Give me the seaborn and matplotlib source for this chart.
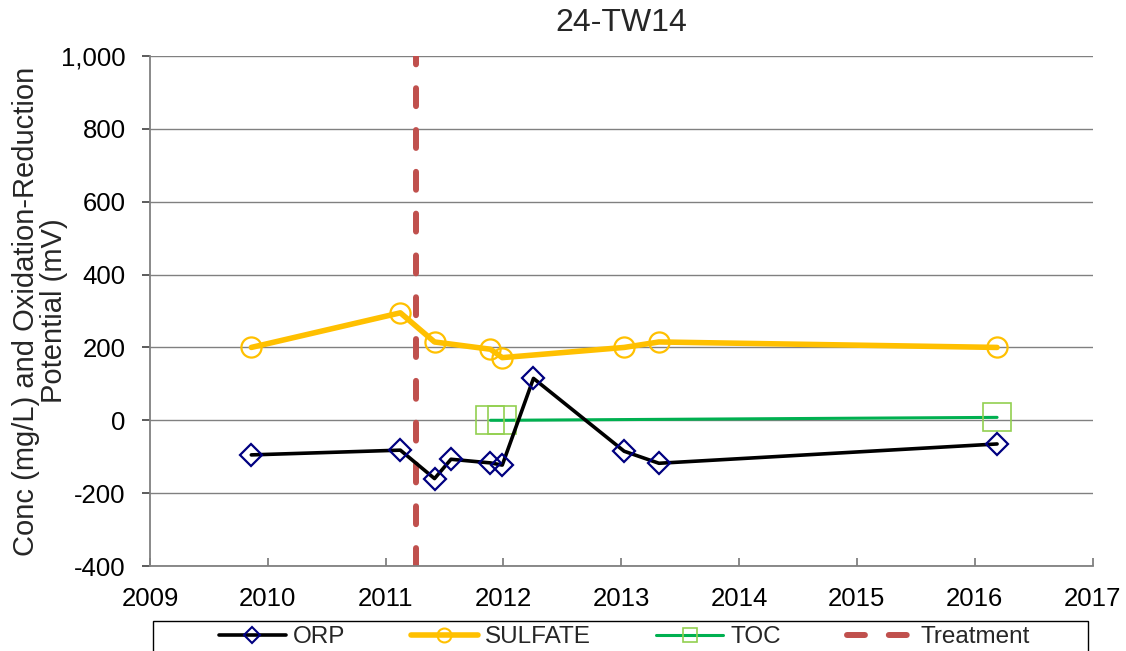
import matplotlib
matplotlib.use("Agg")
import matplotlib.pyplot as plt
import seaborn as sns
import pandas as pd
from matplotlib.lines import Line2D
from matplotlib.patches import Rectangle

sns.set_theme(style="white")
plt.rcParams['font.family'] = ['Liberation Sans', 'DejaVu Sans']

# Sampling dates as decimal years
orp_year = [2009.86, 2011.125, 2011.415, 2011.555, 2011.89, 2011.99, 2012.255, 2013.025, 2013.32, 2016.19]
orp_mv = [-95, -82, -160, -107, -117, -123, 115, -85, -118, -65]

sulfate_year = [2009.86, 2011.125, 2011.415, 2011.89, 2011.99, 2013.025, 2013.32, 2016.19]
sulfate_mgl = [200, 295, 215, 195, 172, 200, 215, 200]

toc_year = [2011.89, 2011.99, 2016.19]
toc_mgl = [0, 0, 8]

treatment_year = 2011.255

year_ticks = list(range(2009, 2018))
value_ticks = list(range(-400, 1001, 200))

W, H = 1126, 651
fig = plt.figure(figsize=(W / 100, H / 100), dpi=100)
ax = fig.add_axes([150 / W, 1 - 566 / H, (1092.5 - 150) / W, (566 - 56) / H])

orp = pd.DataFrame({"year": orp_year, "value": orp_mv})
sulfate = pd.DataFrame({"year": sulfate_year, "value": sulfate_mgl})
toc = pd.DataFrame({"year": toc_year, "value": toc_mgl})

# Treatment date: dashed vertical marker
treat_ls = (0, (3, 4))
ax.axvline(treatment_year, color="#C0504D", lw=4.3, ls=treat_ls, zorder=2,
           dash_capstyle="round")

sns.lineplot(data=sulfate, x="year", y="value", ax=ax, sort=False, color="#FFC000",
             lw=4, marker="o", ms=14.5, mfc="none", mec="#FFC000", mew=1.6, zorder=3)
sns.lineplot(data=toc, x="year", y="value", ax=ax, sort=False, color="#00B050",
             lw=2.2, marker="s", ms=19.5, mfc="none", mec="#92D050", mew=1.2, zorder=4)
sns.lineplot(data=orp, x="year", y="value", ax=ax, sort=False, color="black",
             lw=2.6, marker="D", ms=11.5, mfc="none", mec="#000080", mew=1.6, zorder=5)

ax.set_xlim(2009, 2017)
ax.set_ylim(-400, 1000)
ax.set_xticks(year_ticks)
ax.set_xticklabels([str(y) for y in year_ticks])
ax.set_yticks(value_ticks)
ax.set_yticklabels([f"{v:,}" for v in value_ticks])
ax.yaxis.grid(True, color="#808080", lw=1)
ax.xaxis.grid(False)
ax.set_axisbelow(True)
for s in ["top", "right"]:
    ax.spines[s].set_visible(False)
for s in ["left", "bottom"]:
    ax.spines[s].set_color("#808080")
    ax.spines[s].set_linewidth(1.3)
ax.tick_params(axis="x", labelsize=18.5, colors="black", length=5.5, width=1.3,
               color="#808080", direction="in", bottom=True, pad=15)
ax.tick_params(axis="y", labelsize=18.5, colors="black", length=5.5, width=1.2,
               color="#404040", direction="out", left=True, pad=12)
ax.set_xlabel("")
ax.set_ylabel("Conc (mg/L) and Oxidation-Reduction\nPotential (mV)", fontsize=21,
              linespacing=1.0)
ax.yaxis.set_label_coords(-0.087, 0.5)
ax.set_title("24-TW14", fontsize=23, pad=18)

handles = [
    Line2D([], [], color="black", lw=2.6, marker="D", ms=8, mfc="none", mec="#000080", mew=1.5),
    Line2D([], [], color="#FFC000", lw=4, marker="o", ms=10, mfc="none", mec="#FFC000", mew=1.5),
    Line2D([], [], color="#00B050", lw=2.2, marker="s", ms=10, mfc="none", mec="#92D050", mew=1.2),
    Line2D([], [], color="#C0504D", lw=4.3, ls=treat_ls, dash_capstyle="round"),
]
labels = ["ORP", "SULFATE", "TOC", "Treatment"]
leg = fig.legend(handles, labels, loc="center", ncol=4, fontsize=17.5,
                 bbox_to_anchor=(624.5 / W, 1 - 637 / H), frameon=False,
                 borderpad=0.0, handlelength=2.75, columnspacing=2.7, handletextpad=0.3)

# Legend border spanning the plot width, open at the bottom edge of the figure
fig.patches.append(Rectangle((153 / W, -0.05), (1088 - 153) / W, 1 - 621 / H + 0.05,
                             transform=fig.transFigure, fill=False, edgecolor="black",
                             lw=1, clip_on=False))

fig.savefig("out.png", dpi=100)
